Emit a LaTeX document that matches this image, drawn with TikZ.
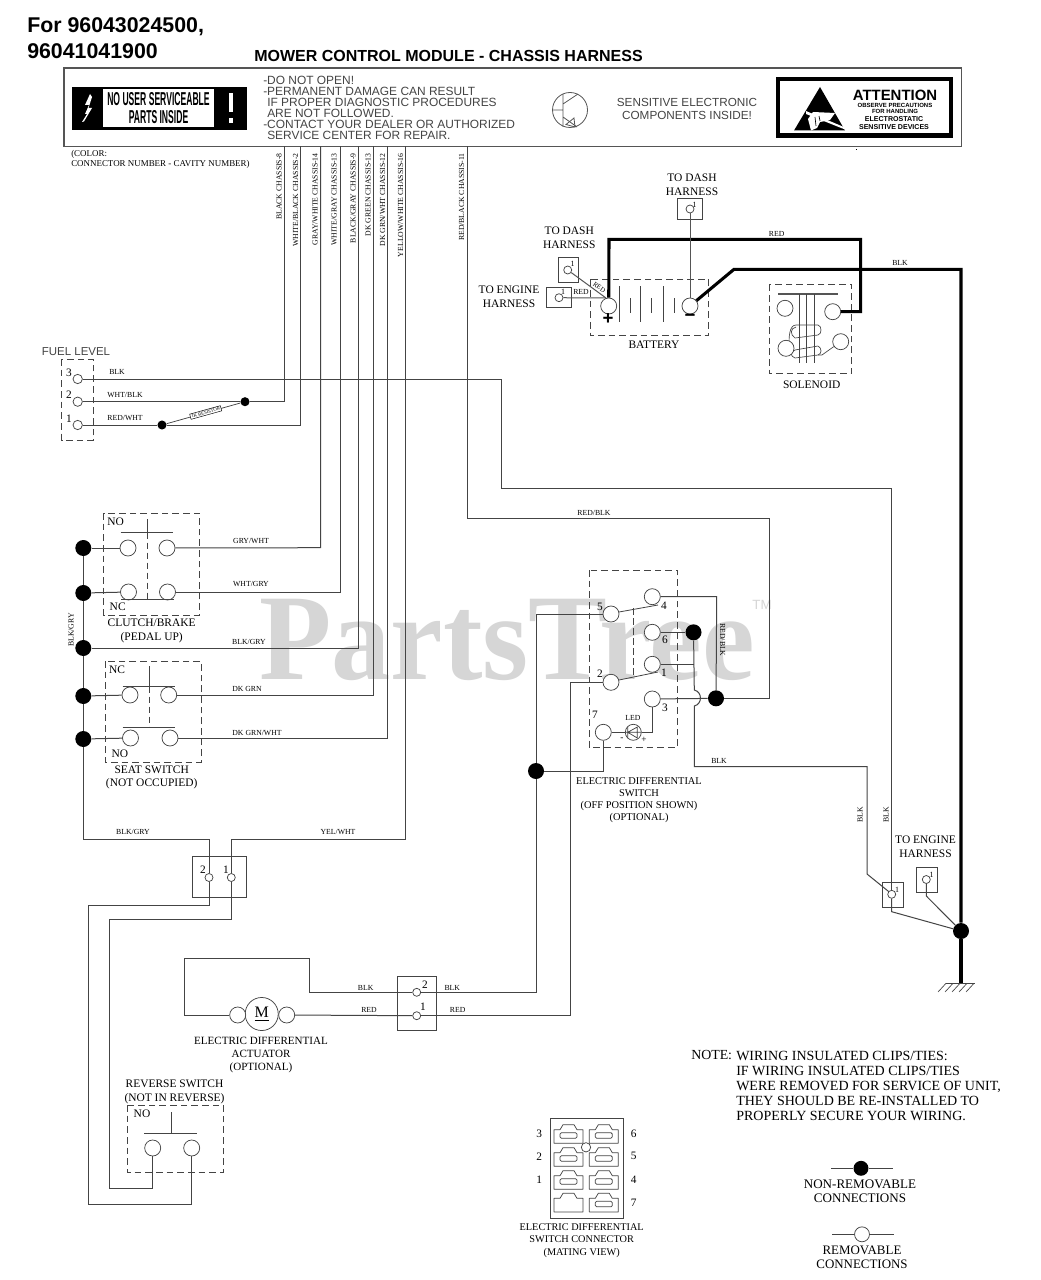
\documentclass[tikz,border=0pt]{standalone}
\usepackage{fontspec}
\setmainfont{Liberation Serif}
\setsansfont{Liberation Sans}
\definecolor{wirec}{HTML}{444444}
\definecolor{boxc}{HTML}{555555}
\definecolor{markc}{HTML}{D6D6D6}
\newcommand{\fsz}[2]{\fontsize{#1}{#2}\selectfont}
\tikzset{
  wire/.style={draw=wirec,line width=.75pt},
  thick wire/.style={draw=black,line width=2.3pt,line join=miter},
  term/.style={circle,draw=wirec,fill=white,line width=.55pt,minimum size=12pt,inner sep=0pt},
  sterm/.style={circle,draw=wirec,fill=white,line width=.55pt,minimum size=6pt,inner sep=0pt},
  bigdot/.style={circle,fill=black,minimum size=12pt,inner sep=0pt},
  smalldot/.style={circle,fill=black,minimum size=6.8pt,inner sep=0pt},
  dbox/.style={draw=wirec,line width=.6pt,dash pattern=on 5pt off 3pt},
  cbox/.style={draw=wirec,line width=.6pt},
  tiny lbl/.style={inner sep=0pt,font=\fsz{5.8pt}{7pt}},
  comp lbl/.style={inner sep=0pt,align=center,font=\fsz{8.6pt}{10.4pt}},
  num lbl/.style={inner sep=0pt,font=\fsz{8.5pt}{10pt}},
  warn lbl/.style={inner sep=0pt,text=wirec,font=\sffamily\fsz{8.95pt}{8.35pt}},
  cell/.style={draw=wirec,line width=.55pt,line join=round},
}
\begin{document}
\begin{tikzpicture}[x=.75pt,y=-.75pt]
\useasboundingbox (0,0) rectangle (1041,1280);
\fill[white] (0,0) rectangle (1041,1280);
% watermark
\node[inner sep=0pt,text=markc,font=\bfseries\fsz{92pt}{92pt}] (wm) at (507,640) {\scalebox{.965}[1]{PartsTree}};
\node[inner sep=0pt,text=markc,font=\sffamily\fsz{10pt}{10pt}] (tm) at (762,605) {TM};
% header
\node[anchor=west,inner sep=0pt,font=\sffamily\bfseries\fsz{16pt}{19pt},align=left] (hdr) at (27,38) {For 96043024500,\\96041041900};
\node[anchor=west,inner sep=0pt,font=\sffamily\bfseries\fsz{12pt}{15pt}] (title) at (254,56) {MOWER CONTROL MODULE - CHASSIS HARNESS};
\draw[draw=boxc,line width=.8pt] (64,68) rectangle (961.5,146.5);
% black badge
\fill[black] (72,87) rectangle (246.5,130);
\fill[white] (103,89) rectangle (214,127);
\node[inner sep=0pt,align=center,font=\sffamily\bfseries\fsz{14pt}{14pt}] (nouser) at (158.5,108) {\scalebox{.46}[1]{NO USER SERVICEABLE}\\\scalebox{.46}[1]{PARTS INSIDE}};
\fill[white] (90,94) -- (85,105) -- (89,105) -- (85,114) -- (87,114) -- (82,122) -- (84,121.5) -- (92,108) -- (88.5,108) -- (92,97) -- cycle;
\fill[white] (229,93) rectangle (232.5,112);
\fill[white] (228.5,118) rectangle (233,123);
% warnings
\node[warn lbl,anchor=west,align=left] (warn) at (263,108) {-DO NOT OPEN!\\-PERMANENT DAMAGE CAN RESULT\\\hspace*{3pt}IF PROPER DIAGNOSTIC PROCEDURES\\\hspace*{3pt}ARE NOT FOLLOWED.\\-CONTACT YOUR DEALER OR AUTHORIZED\\\hspace*{3pt}SERVICE CENTER FOR REPAIR.};
% transistor
\draw[draw=boxc,line width=.6pt] (570,110) circle[radius=17.5];
\draw[draw=boxc,line width=.6pt] (552.5,110) -- (563,110) (563,94) -- (563,127) (563,104) -- (578,94) (563,117) -- (577,127);
\draw[draw=boxc,line width=.6pt] (574,118) -- (575,127) -- (566,124.5) -- cycle;
\node[inner sep=0pt,align=center,text=wirec,font=\sffamily\fsz{8.8pt}{9.3pt}] (sens) at (687,109) {SENSITIVE ELECTRONIC\\COMPONENTS INSIDE!};
% attention badge
\draw[black,line width=3.2pt] (778,79) rectangle (951,135.5);
\fill[black] (820,87) -- (794,130.5) -- (845,130.5) -- cycle;
\fill[white] (806,111) -- (845,127.5) -- (845,129.5) -- (806,114) -- cycle;
\fill[white] (813,112) -- (835,113) -- (830,120) -- (820,122) -- (817,128) -- (811,130.5) -- (808,119) -- cycle;
\draw[black,line width=.5pt] (815,117) -- (816,126) (819,116) -- (820,121);
\node[inner sep=0pt,font=\sffamily\bfseries\fsz{11.2pt}{12pt}] (att) at (895,95) {ATTENTION};
\node[inner sep=0pt,align=center,font=\sffamily\bfseries\fsz{4.5pt}{4.5pt}] (obs) at (895,108.5) {OBSERVE PRECAUTIONS\\FOR HANDLING};
\node[inner sep=0pt,align=center,font=\sffamily\bfseries\fsz{5.3pt}{6pt}] (esd) at (894,123) {ELECTROSTATIC\\SENSITIVE DEVICES};
\fill[black] (855.5,149.5) rectangle (856.5,150.5);
% colour note
\node[anchor=west,inner sep=0pt,align=left,font=\fsz{6.7pt}{7.5pt}] (cnote) at (71,159) {(COLOR:\\CONNECTOR NUMBER - CAVITY NUMBER)};
% chassis wire tops and labels
\foreach \n/\xw/\xl/\t in {a/284.5/279/{BLACK CHASSIS-8},b/300.5/295.5/{WHITE/BLACK CHASSIS-2},c/320.7/315/{GRAY/WHITE CHASSIS-14},d/340/334/{WHITE/GRAY CHASSIS-13},e/358/353/{BLACK/GRAY CHASSIS-9},f/373.3/368/{DK GREEN CHASSIS-13},g/387.7/382.7/{DK GRN/WHT CHASSIS-12},h/405.7/400.7/{YELLOW/WHITE CHASSIS-16},i/467/461.7/{RED/BLACK CHASSIS-11}}{
  \coordinate (top\n) at (\xw,146.5);
  \node[tiny lbl,rotate=90,anchor=east] (lab\n) at (\xl,153) {\t};
}
% fuel level
\node[inner sep=0pt,text=wirec,font=\sffamily\fsz{8.6pt}{9pt}] (fuellbl) at (76,352) {FUEL LEVEL};
\draw[dbox] (61.7,359) rectangle (93.3,440);
\node[sterm,minimum size=7pt] (f3) at (77.7,379) {};
\node[sterm,minimum size=7pt] (f2) at (77.7,401.7) {};
\node[sterm,minimum size=7pt] (f1) at (77.7,425) {};
\node[num lbl] (n3) at (69,373) {3};
\node[num lbl] (n2) at (69,395) {2};
\node[num lbl] (n1) at (69,419) {1};
\node[tiny lbl] (lf3) at (117,372) {BLK};
\node[tiny lbl] (lf2) at (125,395) {WHT/BLK};
\node[tiny lbl] (lf1) at (125,418) {RED/WHT};
\node[smalldot] (rb) at (245,401.7) {};
\node[smalldot] (ra) at (162,425) {};
\draw[wire] (f2) -- (rb) -- (284.5,401.7) -- (topa);
\draw[wire] (f1) -- (ra) -- (300.5,425) -- (topb);
\draw[wire,line width=.55pt] (ra) -- (rb);
\node[inner sep=.8pt,draw=black,line width=.35pt,fill=white,rotate=15.5,font=\fsz{3.6pt}{4pt}] (res) at (205.7,412.5) {1K RESISTOR};
% clutch/brake
\draw[dbox] (103.7,513) rectangle (199.3,615);
\node[bigdot] (d1) at (83.3,548) {};
\node[bigdot] (d2) at (83.3,593) {};
\node[bigdot] (d3) at (83.3,648) {};
\node[bigdot] (d4) at (83.3,696) {};
\node[bigdot] (d5) at (83.3,739) {};
\node[term] (c1l) at (128,548) {};
\node[term] (c1r) at (167,548) {};
\node[term] (c2l) at (128.5,592) {};
\node[term] (c2r) at (167.5,592) {};
\draw[wire] (120.7,532.7) -- (172.7,532.7) (147.3,519) -- (147.3,532.7);
\draw[wire,line width=.6pt,dash pattern=on 5pt off 2.5pt] (147.3,532.7) -- (147.3,599);
\draw[wire] (121,599.3) -- (174,599.3);
\node[comp lbl] (no1) at (115.7,522) {NO};
\node[comp lbl] (nc1) at (117.7,607) {NC};
\node[comp lbl] (clbl) at (151.7,631) {CLUTCH/BRAKE\\(PEDAL UP)};
% seat switch
\draw[dbox] (105.3,661) rectangle (201,762);
\node[term] (s1l) at (130,695) {};
\node[term] (s1r) at (168.7,695) {};
\node[term] (s2l) at (130.5,738) {};
\node[term] (s2r) at (170,738) {};
\draw[wire] (122.7,686.7) -- (175,686.7) (149.3,666) -- (149.3,686.7) (122.7,727.3) -- (175,727.3);
\draw[wire,line width=.6pt,dash pattern=on 5pt off 2.5pt] (149.3,686.7) -- (149.3,727.3);
\node[comp lbl] (nc2) at (117,669.5) {NC};
\node[comp lbl] (no2) at (120,754) {NO};
\node[comp lbl,font=\fsz{8.6pt}{9.2pt}] (slbl) at (151.7,777.5) {SEAT SWITCH\\(NOT OCCUPIED)};
% switch wires
\draw[wire] (d1) -- (c1l);
\draw[wire] (d2) -- (c2l);
\draw[wire] (d4) -- (s1l);
\draw[wire] (d5) -- (s2l);
\draw[wire] (c1r) -- (320.7,547.7) -- (topc);
\draw[wire] (c2r) -- (340,592) -- (topd);
\draw[wire] (d3) -- (358,648) -- (tope);
\draw[wire] (s1r) -- (373.3,695) -- (topf);
\draw[wire] (s2r) -- (387.7,738) -- (topg);
\draw[wire] (d1) -- (d2);
\draw[wire] (d2) -- (d3);
\draw[wire] (d3) -- (d4);
\draw[wire] (d4) -- (d5);
\node[tiny lbl] (l1) at (251,541) {GRY/WHT};
\node[tiny lbl] (l2) at (251,584) {WHT/GRY};
\node[tiny lbl] (l3) at (249,642) {BLK/GRY};
\node[tiny lbl] (l4) at (247,689) {DK GRN};
\node[tiny lbl] (l5) at (257,733) {DK GRN/WHT};
\node[tiny lbl,rotate=90] (l6) at (71,630) {BLK/GRY};
% 2-way connector
\draw[cbox] (192.3,856.7) rectangle (246.7,897.3);
\node[sterm] (k2) at (209,877.5) {};
\node[sterm] (k1) at (231.3,877.5) {};
\node[num lbl] (nk2) at (203,870) {2};
\node[num lbl] (nk1) at (226,870) {1};
\node[tiny lbl] (l7) at (133,832) {BLK/GRY};
\node[tiny lbl] (l8) at (338,832) {YEL/WHT};
% reverse switch
\node[comp lbl] (rlbl) at (174.5,1092) {REVERSE SWITCH\\(NOT IN REVERSE)};
\draw[dbox] (127.3,1105) rectangle (223.3,1172.3);
\node[term] (r1) at (152.7,1148) {};
\node[term] (r2) at (191.7,1148) {};
\draw[wire] (144,1133.7) -- (196.7,1133.7) (171.3,1112) -- (171.3,1133.7);
\node[comp lbl] (nor) at (142,1114) {NO};
\draw[wire] (d5) -- (83.3,839) -- (209,839) -- (k2);
\draw[wire] (k2) -- (209,905.7) -- (88.3,905.7) -- (88.3,1204) -- (191.7,1204) -- (r2);
\draw[wire] (toph) -- (405.7,839) -- (231.3,839) -- (k1);
\draw[wire] (k1) -- (231.3,919) -- (109.7,919) -- (109.7,1188) -- (152.7,1188) -- (r1);
% motor
\node[circle,draw=wirec,fill=white,line width=.55pt,minimum size=24.8pt,inner sep=0pt,font=\fsz{12pt}{12pt}] (mot) at (261.7,1014) {\underline{M}};
\node[term] (ml) at (237.7,1015) {};
\node[term] (mr) at (286.7,1015) {};
\draw[cbox] (397.7,976.7) rectangle (436.7,1030);
\node[sterm] (a2) at (416.7,992.3) {};
\node[sterm] (a1) at (416.7,1015.7) {};
\node[num lbl] (na2) at (425,985) {2};
\node[num lbl] (na1) at (423,1007) {1};
\draw[wire] (mr) -- (a1);
\draw[wire] (ml) -- (184.3,1015) -- (184.3,958.3) -- (309.3,958.3) -- (309.3,992.3) -- (a2);
\node[tiny lbl] (m1) at (365.7,988) {BLK};
\node[tiny lbl] (m2) at (452.3,988) {BLK};
\node[tiny lbl] (m3) at (369,1010) {RED};
\node[tiny lbl] (m4) at (457.7,1010) {RED};
\node[comp lbl,font=\fsz{8.3pt}{9.8pt}] (mlbl) at (261,1055) {ELECTRIC DIFFERENTIAL\\ACTUATOR\\(OPTIONAL)};
% electric differential switch
\draw[dbox] (589.3,570) rectangle (677.3,747.3);
\node[term] (t4) at (652.3,596.7) {};
\node[term] (t5) at (611,614) {};
\node[term] (t6) at (652.3,632.3) {};
\node[term] (t1) at (652.3,664.3) {};
\node[term] (t2) at (611,682.3) {};
\node[term] (t3) at (652.3,699) {};
\node[term] (t7) at (603.3,732.3) {};
\node[term] (tl) at (633.3,732.3) {};
\draw[draw=wirec,line width=.55pt] (627.7,732.3) -- (637.3,727) -- (637.3,738) -- cycle (627.7,727) -- (627.7,738) (625.3,732.3) -- (641.3,732.3);
\node[num lbl] (t5n) at (600,607) {5};
\node[num lbl] (t4n) at (664,606) {4};
\node[num lbl] (t6n) at (665,640) {6};
\node[num lbl] (t2n) at (600,674) {2};
\node[num lbl] (t1n) at (664,673) {1};
\node[num lbl] (t3n) at (665,708) {3};
\node[num lbl] (t7n) at (595,715) {7};
\node[tiny lbl] (ledn) at (633,718) {LED};
\node[inner sep=0pt,font=\fsz{7pt}{8pt}] (lmi) at (622,739) {-};
\node[inner sep=0pt,font=\fsz{7pt}{8pt}] (lpl) at (644,740) {+};
\draw[wire,line width=.6pt] (619,612) -- (658,605) (619,680) -- (658,672);
\draw[wire,line width=.6pt,dash pattern=on 5pt off 2.5pt] (633.3,608) -- (633.3,678);
\node[bigdot] (dx) at (693.5,632.3) {};
\node[bigdot] (dy) at (716,698.3) {};
\node[bigdot] (dz) at (536,771) {};
\draw[wire] (t4) -- (716.7,596.7) -- (dy);
\draw[wire] (t6) -- (dx);
\draw[wire] (t1) -- (694.3,664.3);
\draw[wire] (t3) -- (dy);
\draw[wire] (tl) -- (t7);
\draw[wire] (tl) -- (652.3,732.3) -- (t3);
\draw[wire] (dx) -- (694.3,690) .. controls (702.5,692) and (702.5,704) .. (694.3,706) -- (694.3,766.7) -- (867,766.7) -- (867,874) -- (891.7,894);
\draw[wire] (t5) -- (536,614) -- (dz);
\draw[wire] (t7) -- (603.3,771) -- (dz);
\draw[wire] (dz) -- (536,992.3) -- (a2);
\draw[wire] (t2) -- (570,682.3) -- (570,1015.7) -- (a1);
\draw[wire] (topi) -- (467,518) -- (769.3,518) -- (769.3,698.3) -- (dy);
\node[tiny lbl] (rb1) at (594,513) {RED/BLK};
\node[tiny lbl,rotate=-90] (rb2) at (722.7,640) {RED/BLK};
\node[tiny lbl] (bk1) at (719,761) {BLK};
\node[comp lbl,font=\fsz{7.8pt}{9pt}] (dlbl) at (639,800) {ELECTRIC DIFFERENTIAL\\SWITCH\\(OFF POSITION SHOWN)\\(OPTIONAL)};
% battery
\draw[dbox] (590,279.3) rectangle (708.7,335.3);
\node[term] (bp) at (608.7,306) {};
\node[term] (bm) at (690,306) {};
\foreach \xb/\ya/\yb in {619.3/286/321.7,630/298/312.7,640.3/286/321.7,651.3/298/312.7,663.3/286/321.7,674.3/298/312.7}
  \draw[wire,line width=.6pt] (\xb,\ya) -- (\xb,\yb);
\node[inner sep=0pt,font=\sffamily\bfseries\fsz{14pt}{14pt}] (plus) at (608,319.5) {+};
\node[inner sep=0pt,font=\sffamily\bfseries\fsz{14pt}{14pt}] (minus) at (690,317.5) {−};
\node[comp lbl] (blbl) at (654,345) {BATTERY};
% solenoid
\draw[dbox] (769,284.3) rectangle (851.7,373.3);
\draw[wire,line width=.9pt,draw=boxc] (778,294) -- (838,294);
\foreach \xs in {799.3,806.7,814} \draw[wire,line width=.6pt] (\xs,294) -- (\xs,363.3);
\draw[wire,line width=.5pt] (818,335) -- (795,338) .. controls (790,335) and (790,328) .. (796,327) (818,325) -- (796,325) .. controls (789,325) and (789,338) .. (789,345) (818,346) -- (795,350) (818,355) -- (795,358) .. controls (790,356) and (790,352) .. (795,350) (818,325) .. controls (822,326) and (822,334) .. (818,335) (818,346) .. controls (822,348) and (822,354) .. (818,355);
\node[term] (so1) at (785,308.3) {};
\node[term] (so2) at (832.7,311.7) {};
\node[term] (so3) at (786,348.3) {};
\node[term] (so4) at (840.7,341.7) {};
\draw[wire,line width=.5pt] (818,355) -- (822,355) -- (829,350) -- (so4);
\node[comp lbl] (solbl) at (811.7,385) {SOLENOID};
% thick wires
\node[bigdot] (gd) at (961,931) {};
\coordinate (gc) at (961,983.3);
\draw[thick wire] (bp) -- (609,239.3) -- (860.7,239.3) -- (860.7,311.7) -- (so2);
\draw[thick wire] (bm) -- (734,269.3) -- (961,269.3) -- (gd);
\draw[thick wire] (gd) -- (gc);
\draw[wire,line width=.6pt] (946,983.3) -- (975,983.3);
\foreach \xh in {946,953,960,967,974} \draw[wire,line width=.5pt] (\xh,983.3) -- (\xh-8,992);
\node[tiny lbl] (rd) at (776.7,234) {RED};
\node[tiny lbl] (bl) at (900,263) {BLK};
% harness connectors top
\node[comp lbl] (tdh1) at (692,185) {TO DASH\\HARNESS};
\draw[cbox] (677.3,198.7) rectangle (702.7,219.3);
\node[sterm] (h1) at (690,209) {};
\node[inner sep=0pt,font=\fsz{6pt}{7pt}] (h1n) at (694.5,204.5) {1};
\draw[wire,draw=boxc] (h1) -- (bm);
\node[comp lbl] (tdh2) at (569.3,237.5) {TO DASH\\HARNESS};
\draw[cbox] (558.3,257.3) rectangle (578.3,282.3);
\node[sterm] (h2) at (567.7,270) {};
\node[inner sep=0pt,font=\fsz{6pt}{7pt}] (h2n) at (572.7,264) {1};
\coordinate (bpt) at (606,298);
\draw[wire,draw=boxc] (h2) -- (bpt);
\node[inner sep=.6pt,fill=white,rotate=-35,font=\fsz{5pt}{6pt}] (h2l) at (599.3,287.3) {RED};
\node[comp lbl] (teh1) at (509,297) {TO ENGINE\\HARNESS};
\draw[cbox] (546.7,287.3) rectangle (571.7,307.3);
\node[sterm] (h3) at (559,297.7) {};
\node[inner sep=0pt,font=\fsz{6pt}{7pt}] (h3n) at (563,292) {1};
\draw[wire,draw=boxc] (h3) -- (bpt);
\node[tiny lbl] (h3l) at (581,291.7) {RED};
% fuel BLK wire to engine harness
\node[comp lbl] (teh2) at (925.5,846.5) {TO ENGINE\\HARNESS};
\draw[cbox] (882.3,882) rectangle (903.3,907.5);
\node[sterm] (e1) at (891.7,894.3) {};
\node[inner sep=0pt,font=\fsz{6pt}{7pt}] (e1n) at (897,889.5) {1};
\draw[cbox] (916.7,867.3) rectangle (937.3,892.5);
\node[sterm] (e2) at (926.3,879.5) {};
\node[inner sep=0pt,font=\fsz{6pt}{7pt}] (e2n) at (931.5,875) {1};
\draw[wire] (f3) -- (501,379) -- (501,488) -- (891.7,488) -- (e1);
\draw[wire] (e1) -- (891.7,911.7) -- (gd);
\draw[wire] (e2) -- (926.3,896) -- (gd);
\node[tiny lbl,rotate=90] (bk2) at (860,815) {BLK};
\node[tiny lbl,rotate=90] (bk3) at (886,815) {BLK};
% mating connector
\draw[cbox] (550,1118.3) rectangle (623.3,1218.3);
\foreach \xa/\yt/\sl in {554/1124.7/1,589.3/1124.7/1,554/1147.7/1,589.3/1147.7/1,554/1170.7/1,589.3/1170.7/1,554/1193.3/0,589.3/1193.3/1}{
  \draw[cell] (\xa,\yt+18.6) -- (\xa,\yt+5) -- (\xa+6,\yt+5) -- (\xa+9,\yt) -- (\xa+20,\yt) -- (\xa+23,\yt+5) -- (\xa+29,\yt+5) -- (\xa+29,\yt+18.6) -- cycle;
  \ifnum\sl=1 \draw[cell,rounded corners=1pt] (\xa+6,\yt+8) rectangle (\xa+23,\yt+13.5);\fi
}
\node[sterm,minimum size=7pt] (key) at (586,1147.3) {};
\foreach \nm/\xn/\yn/\t in {q3/539.3/1134/3,q2/539.3/1157/2,q1/539.3/1180/1,q6/633.7/1133.5/6,q5/633.7/1156/5,q4/633.7/1180/4,q7/633.7/1203/7}
  \node[num lbl] (\nm) at (\xn,\yn) {\t};
\node[comp lbl,font=\fsz{7.7pt}{9.2pt}] (qlbl) at (581.7,1240.5) {ELECTRIC DIFFERENTIAL\\SWITCH CONNECTOR\\(MATING VIEW)};
% note
\node[anchor=north west,inner sep=0pt,font=\fsz{10.4pt}{11pt}] (note) at (691,1050.5) {NOTE:};
\node[anchor=north west,inner sep=0pt,align=left,font=\fsz{10.5pt}{11.25pt}] (notet) at (736,1050.5) {WIRING INSULATED CLIPS/TIES:\\IF WIRING INSULATED CLIPS/TIES\\WERE REMOVED FOR SERVICE OF UNIT,\\THEY SHOULD BE RE-INSTALLED TO\\PROPERLY SECURE YOUR WIRING.};
% legend
\coordinate (lg1a) at (831,1168.3);
\coordinate (lg1b) at (892.7,1168.3);
\node[circle,fill=black,minimum size=11.2pt,inner sep=0pt] (lg1) at (861,1168.3) {};
\draw[wire,line width=.6pt] (lg1a) -- (lg1);
\draw[wire,line width=.6pt] (lg1) -- (lg1b);
\node[inner sep=0pt,align=center,font=\fsz{9.8pt}{10.3pt}] (lg1t) at (860,1191.5) {NON-REMOVABLE\\CONNECTIONS};
\coordinate (lg2a) at (832,1234.3);
\coordinate (lg2b) at (893.7,1234.3);
\node[term,minimum size=11.2pt] (lg2) at (862,1234.3) {};
\draw[wire,line width=.6pt] (lg2a) -- (lg2);
\draw[wire,line width=.6pt] (lg2) -- (lg2b);
\node[inner sep=0pt,align=center,font=\fsz{9.7pt}{10.3pt}] (lg2t) at (862,1257) {REMOVABLE\\CONNECTIONS};
\end{tikzpicture}
\end{document}
